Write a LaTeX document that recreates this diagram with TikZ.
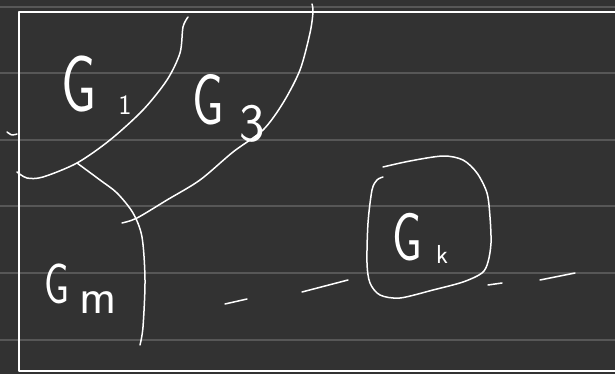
\documentclass[tikz,border=0pt]{standalone}
\usepackage{graphicx}
\definecolor{bgc}{HTML}{323232}
\definecolor{rulec}{HTML}{575757}
\tikzset{
  ink/.style={draw=white, line width=1.5pt, line cap=round, line join=round},
  ruled/.style={draw=rulec, line width=1.3pt},
  lbl/.style={text=white, inner sep=0pt, font=\sffamily},
}
\newcommand{\lblsize}[1]{\fontsize{#1}{#1}\selectfont}
\begin{document}
\begin{tikzpicture}[x=1pt,y=-1pt]
\useasboundingbox (0,0) rectangle (615,374);
\clip (0,0) rectangle (615,374);
\fill[bgc] (0,0) rectangle (615,374);
% ruled lines
\foreach \yy in {7,73,140,206,273,340} \draw[ruled] (0,\yy) -- (615,\yy);
% frame
\draw[ink] (625,12) -- (19,12) -- (19,371) -- (625,371);
% left tick
\draw[ink] plot[smooth] coordinates {(7,132) (12,135) (17,134)};
% G1 boundary
\draw[ink] plot[smooth] coordinates {(17,172) (27,178) (43,177) (77,163) (110,140) (143,110) (167,80) (180,53) (183,27) (188,17)};
% G3 boundary
\draw[ink] plot[smooth] coordinates {(312,4) (313,12) (310,33) (300,70) (283,103) (263,130) (233,152) (200,180) (167,200) (137,218) (122,223)};
% Gm boundary
\draw[ink] plot[smooth] coordinates {(77,163) (100,180) (117,193) (133,213) (142,237) (145,280) (143,327) (140,345)};
% Gk loop
\draw[ink] plot[smooth] coordinates {(383,167) (410,161) (443,156) (463,160) (477,173) (487,193) (490,217) (491,243) (488,262) (482,273) (463,282) (433,290) (400,298) (380,295) (370,283) (367,263) (368,223) (372,190) (377,180) (383,177)};
% dashes
\draw[ink] (225,304) -- (247,299);
\draw[ink] (302,292) -- (348,280);
\draw[ink] (488,285) -- (502,283);
\draw[ink] (540,280) -- (575,273);
% labels
\node[lbl, anchor=base west] (g1) at (61,112) {\lblsize{80}\scalebox{0.7}[1]{G}};
\node[lbl, anchor=base] (g1s) at (125,115) {\lblsize{28}1};
\node[lbl, anchor=base west] (g3) at (192,125) {\lblsize{72}\scalebox{0.7}[1]{G}};
\node[lbl, anchor=base] (g3s) at (252,142) {\lblsize{54}3};
\node[lbl, anchor=base west] (gm) at (44,303) {\lblsize{57}\scalebox{0.7}[1]{G}};
\node[lbl, anchor=base] (gms) at (98,313) {\lblsize{50}m};
\node[lbl, anchor=base west] (gk) at (392,260) {\lblsize{68}\scalebox{0.7}[1]{G}};
\node[lbl, anchor=base] (gks) at (442,263) {\lblsize{26}k};
\end{tikzpicture}
\end{document}
